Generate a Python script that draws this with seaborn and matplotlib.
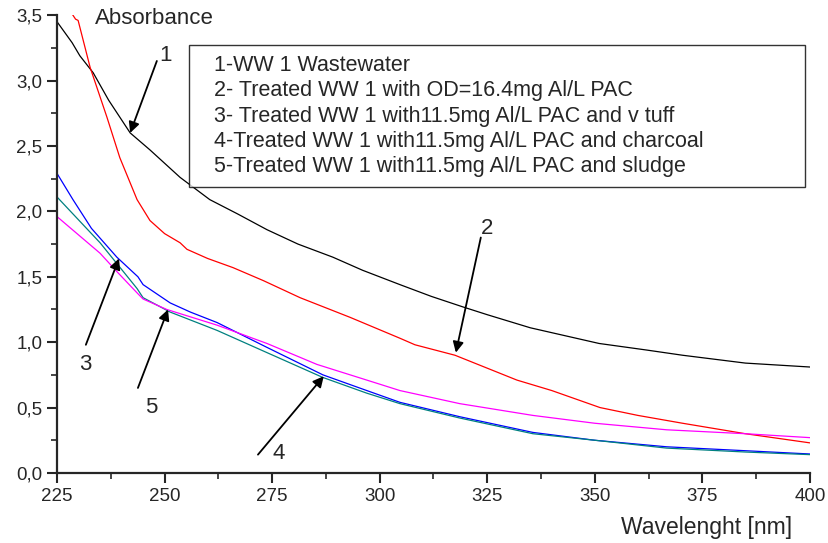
import numpy as np
import pandas as pd
import matplotlib
matplotlib.use("Agg")
import matplotlib.pyplot as plt
from matplotlib.ticker import MultipleLocator, FuncFormatter
import seaborn as sns

# ── data ────────────────────────────────────────────────────────
LABELS = [
    "1-WW 1 Wastewater",
    "2- Treated WW 1 with OD=16.4mg Al/L PAC",
    "3- Treated WW 1 with11.5mg Al/L PAC and v tuff",
    "4-Treated WW 1 with11.5mg Al/L PAC and charcoal",
    "5-Treated WW 1 with11.5mg Al/L PAC and sludge",
]
COLORS = ["#000000", "#ff0000", "#0000ff", "#008080", "#ff00ff"]

wl_1 = [225, 228.5, 230.3, 233.4, 237, 242, 246.6, 253.6, 260.5, 267, 273.8, 281,
        289.1, 296, 304.7, 312, 319.3, 325, 335, 351, 362, 370.4, 385, 400]
abs_1 = [3.45, 3.29, 3.19, 3.06, 2.85, 2.60, 2.47, 2.26, 2.09, 1.98, 1.86, 1.75,
         1.65, 1.55, 1.44, 1.35, 1.27, 1.21, 1.11, 0.99, 0.94, 0.90, 0.84, 0.81]

wl_2 = [228.3, 229.3, 229.9, 232.7, 236.6, 239.6, 243.6, 246.6, 250, 253.6, 255.2,
        260, 265.9, 273, 281.5, 293.1, 304.7, 308.2, 317.5, 331.9, 340, 351.2, 360,
        370.4, 385, 400]
abs_2 = [3.52, 3.47, 3.46, 3.10, 2.72, 2.41, 2.09, 1.93, 1.83, 1.76, 1.71,
         1.64, 1.57, 1.47, 1.34, 1.19, 1.03, 0.98, 0.90, 0.71, 0.63, 0.50, 0.44,
         0.38, 0.30, 0.23]

wl_3 = [225, 228.7, 233, 238.9, 243.8, 245, 251.3, 256, 262.2, 273.8, 286.8, 297,
        304.7, 318.6, 335.6, 350, 366.7, 385, 400]
abs_3 = [2.29, 2.09, 1.87, 1.65, 1.50, 1.44, 1.30, 1.23, 1.15, 0.96, 0.75, 0.63,
         0.54, 0.43, 0.31, 0.25, 0.20, 0.17, 0.145]

wl_4 = [225, 235, 243.6, 245, 251.3, 262.2, 273.8, 286.8, 297, 304.7, 318.6, 335.6,
        350, 366.7, 385, 400]
abs_4 = [2.11, 1.76, 1.41, 1.34, 1.23, 1.09, 0.92, 0.73, 0.61, 0.53, 0.42, 0.30,
         0.25, 0.19, 0.16, 0.14]

wl_5 = [225, 235, 238.9, 243.8, 245, 250.5, 262.2, 273.8, 285.4, 297, 304.7, 318.6,
        335.6, 350, 366.7, 385, 400]
abs_5 = [1.96, 1.68, 1.54, 1.37, 1.33, 1.25, 1.13, 0.99, 0.83, 0.71, 0.63, 0.53,
         0.44, 0.38, 0.33, 0.30, 0.27]

# curve number labels: (label pos, arrow tail, arrow head) in data coords
curve_ids = ["1", "2", "3", "4", "5"]
label_pos = [(250.1, 3.19), (324.9, 1.87), (231.5, 0.83), (276.6, 0.15), (246.8, 0.50)]
arrow_tail = [(248.2, 3.15), (323.5, 1.80), (231.7, 0.98), (271.7, 0.14), (243.8, 0.65)]
arrow_head = [(242.0, 2.60), (317.7, 0.92), (239.4, 1.64), (287.0, 0.74), (250.8, 1.25)]

series = [(wl_1, abs_1), (wl_2, abs_2), (wl_3, abs_3), (wl_4, abs_4), (wl_5, abs_5)]
frames = []
for lab, (wl, ab) in zip(LABELS, series):
    frames.append(pd.DataFrame({"wl": wl, "abs": ab, "sample": lab}))
df = pd.concat(frames, ignore_index=True)

sns.set_style("ticks")
plt.rcParams["font.family"] = ["Liberation Sans", "DejaVu Sans"]

fig = plt.figure(figsize=(8.29, 5.43), dpi=100)
ax = fig.add_axes([0.0688, 0.129, 0.9082, 0.843])

sns.lineplot(data=df, x="wl", y="abs", hue="sample", hue_order=LABELS,
             palette=COLORS, estimator=None, sort=False, linewidth=0.9, ax=ax)

ax.set_xlim(225, 400)
ax.set_ylim(0, 3.5)
ax.xaxis.set_major_locator(MultipleLocator(25))
ax.xaxis.set_minor_locator(MultipleLocator(12.5))
ax.yaxis.set_major_locator(MultipleLocator(0.5))
ax.yaxis.set_minor_locator(MultipleLocator(0.25))
ax.yaxis.set_major_formatter(FuncFormatter(lambda v, p: f"{v:.1f}".replace(".", ",")))
ax.tick_params(which="major", length=7, width=1.5, labelsize=13.5, direction="out")
ax.tick_params(which="minor", length=4, width=1.2, direction="out")
for s in ["top", "right"]:
    ax.spines[s].set_visible(False)
for s in ["left", "bottom"]:
    ax.spines[s].set_linewidth(1.6)
ax.set_xlabel("")
ax.set_ylabel("")

# legend box stretched to the width of the original frame
leg = ax.legend(loc="upper left", bbox_to_anchor=(0.175, 0.0, 0.819, 0.934),
                mode="expand", borderaxespad=0,
                handlelength=0, handletextpad=0.7, fontsize=15.5, frameon=True,
                fancybox=False, edgecolor="black", labelspacing=0.2,
                borderpad=0.45)
leg.get_frame().set_linewidth(1.0)
for line in leg.get_lines():
    line.set_visible(False)

ax.text(0.050, 0.993, "Absorbance", transform=ax.transAxes, fontsize=16,
        va="center", ha="left", clip_on=False)
fig.text(0.955, 0.029, "Wavelenght [nm]", fontsize=16.5, ha="right", va="center")

for cid, lp, tl, hd in zip(curve_ids, label_pos, arrow_tail, arrow_head):
    ax.annotate("", xy=hd, xytext=tl,
                arrowprops=dict(arrowstyle="-|>", color="black", lw=1.3,
                                mutation_scale=16, shrinkA=0, shrinkB=0))
    ax.text(lp[0], lp[1], cid, fontsize=16, ha="center", va="center")

fig.savefig("out.png", dpi=100)
